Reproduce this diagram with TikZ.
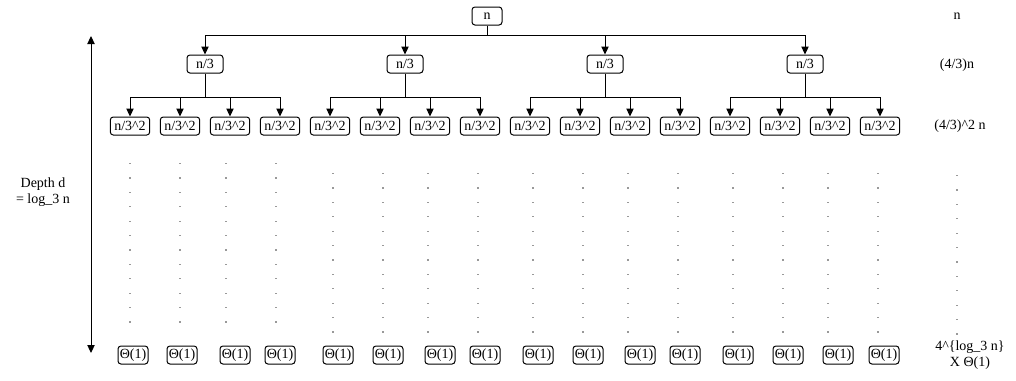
\documentclass[tikz,border=0pt]{standalone}
\usepackage{fontspec}
\setmainfont{Liberation Serif}
\usetikzlibrary{arrows.meta,calc}
\begin{document}
\begin{tikzpicture}[x=0.75pt,y=-0.75pt,
  font=\fontsize{10.5pt}{12pt}\selectfont,
  box/.style={draw,rounded corners=2.2pt,line width=0.75pt,inner sep=1pt,minimum height=13.5pt},
  rootbox/.style={box,minimum width=22.5pt},
  onebox/.style={box,minimum width=27pt},
  twobox/.style={box,minimum width=29.5pt},
  leafbox/.style={box,minimum width=22.5pt},
  conn/.style={line width=0.75pt},
  arr/.style={conn,-{Triangle[length=6pt,width=5.5pt]}},
  dotmark/.style={fill=gray!80,draw=none}]
\useasboundingbox (0,0) rectangle (1016,380);
% root
\node[rootbox] (r) at (487,16) {n};
% level 1
\foreach \i/\x in {1/205,2/405,3/605,4/805}{
  \node[onebox] (a\i) at (\x,64) {n/3};
}
\coordinate (j0) at (487,35);
\draw[conn] (r.south) -- (j0);
\foreach \i in {1,2,3,4}{
  \draw[arr] (j0) -| (a\i.north);
}
% level 2
\foreach \i/\x in {1/130,2/330,3/530,4/730}{
  \foreach \k in {1,2,3,4}{
    \pgfmathsetmacro{\xx}{\x+50*(\k-1)}
    \node[twobox] (b\i\k) at (\xx,126) {n/3\textasciicircum 2};
  }
  \coordinate (ja\i) at ($(a\i.south)+(0,24)$);
  \draw[conn] (a\i.south) -- (ja\i);
  \foreach \k in {1,2,3,4}{
    \draw[arr] (ja\i) -| (b\i\k.north);
  }
}
% leaves
\foreach \x [count=\n] in {133,182,235,280,338,388,440,485,538,588,640,685,738,788,838,884}{
  \node[leafbox] (t\n) at (\x,355) {Θ(1)};
}
% dots
\foreach \x in {130,180,226,276}{
  \foreach \j in {0,...,11}{
    \fill[dotmark] ($(\x,163)+(-1,{14.4*\j})$) rectangle ++(2.2,1.2);
  }
}
\foreach \x in {333,383,428,478,533,583,628,678,733,783,828,878}{
  \foreach \j in {0,...,11}{
    \fill[dotmark] ($(\x,173)+(-1,{14.4*\j})$) rectangle ++(2.2,1.2);
  }
}
\foreach \j in {0,...,11}{
  \fill[dotmark] ($(957,175)+(-1,{14.4*\j})$) rectangle ++(2.2,1.2);
}
% depth arrow
\coordinate (dtop) at (91,36);
\coordinate (dbot) at (91,353);
\draw[conn,{Triangle[length=6pt,width=5.5pt]}-{Triangle[length=6pt,width=5.5pt]}] (dtop) -- (dbot);
\node[align=center] (depth) at (43,192) {Depth d\\= log\_3 n};
% right column
\node (s0) at (957,16) {n};
\node (s1) at (957,65) {(4/3)n};
\node (s2) at (960,126) {(4/3)\textasciicircum 2 n};
\node[align=center] (s3) at (970,355) {4\textasciicircum\{log\_3 n\}\\X Θ(1)};
\end{tikzpicture}
\end{document}
